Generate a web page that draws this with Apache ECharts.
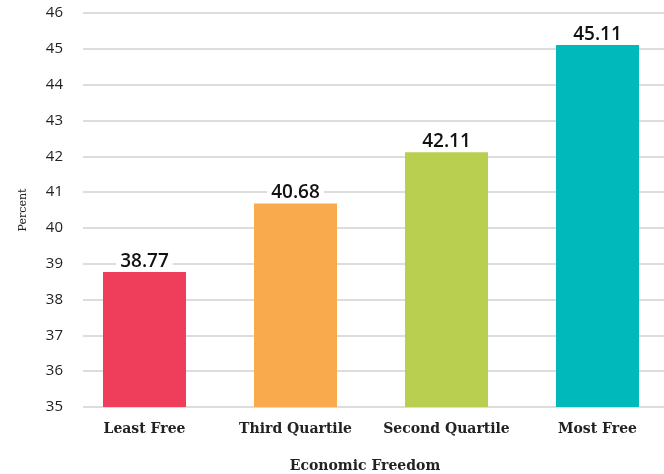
<!DOCTYPE html>
<html>
<head>
<meta charset="utf-8">
<script src="https://cdn.jsdelivr.net/npm/echarts@6/dist/echarts.min.js"></script>
<style>
  html, body { margin: 0; padding: 0; background: #fff; }
  #chart { width: 664px; height: 474px; }
</style>
</head>
<body>
<div id="chart"></div>
<script>
(function() {
    'use strict';

    // data
    var categories = ['Least Free', 'Third Quartile', 'Second Quartile', 'Most Free'];
    var values = [38.77, 40.68, 42.11, 45.11];
    var barColors = ['#ef3e5b', '#f9aa4d', '#b8cf50', '#00b9ba'];
    var yMin = 35, yMax = 46, yStep = 1;

    var serif = '"DejaVu Serif", serif';
    var sans = '"Open Sans", "Noto Sans", sans-serif';

    var chart = echarts.init(document.getElementById('chart'), null, { renderer: 'canvas' });

    var option = {
        backgroundColor: '#fff',
        animation: false,
        grid: [
            // bars
            { left: 69, right: -9, top: 13, bottom: 67, outerBoundsMode: 'none', containLabel: false },
            // y axis + gridlines
            { left: 83, right: 0, top: 13, bottom: 67, outerBoundsMode: 'none', containLabel: false }
        ],
        xAxis: [{
            type: 'category',
            gridIndex: 0,
            data: categories,
            axisLine: { show: false },
            axisTick: { show: false },
            axisLabel: {
                interval: 0,
                margin: 15,
                color: '#222',
                fontFamily: serif,
                fontWeight: 'bold',
                fontSize: 14
            },
            name: 'Economic Freedom',
            nameLocation: 'middle',
            nameGap: 52,
            nameTextStyle: {
                color: '#222',
                fontFamily: serif,
                fontWeight: 'bold',
                fontSize: 14,
                padding: [0, 12, 0, 0]
            }
        }, {
            type: 'value',
            gridIndex: 1,
            min: 0,
            max: 1,
            show: false
        }],
        yAxis: [{
            type: 'value',
            gridIndex: 0,
            min: yMin,
            max: yMax,
            interval: yStep,
            show: false
        }, {
            type: 'value',
            gridIndex: 1,
            min: yMin,
            max: yMax,
            interval: yStep,
            axisLine: { show: false },
            axisTick: { show: false },
            axisLabel: {
                margin: 20,
                color: '#222',
                fontFamily: sans,
                fontSize: 15
            },
            splitLine: { lineStyle: { color: '#dddddd', width: 2 } },
            name: 'Percent',
            nameLocation: 'middle',
            nameGap: 54,
            nameRotate: 90,
            nameTextStyle: {
                color: '#222',
                fontFamily: serif,
                fontSize: 11
            }
        }],
        series: [{
            type: 'bar',
            xAxisIndex: 0,
            yAxisIndex: 0,
            barWidth: 83,
            data: values.map(function(v, i) {
                return { value: v, itemStyle: { color: barColors[i] } };
            }),
            label: {
                show: true,
                position: 'top',
                distance: 1,
                color: '#111',
                fontFamily: sans,
                fontWeight: 600,
                fontSize: 19,
                backgroundColor: '#fff',
                padding: [0, 4, 0, 4],
                formatter: function(p) { return p.value.toFixed(2); }
            }
        }]
    };

    chart.setOption(option);
})();
</script>
</body>
</html>
